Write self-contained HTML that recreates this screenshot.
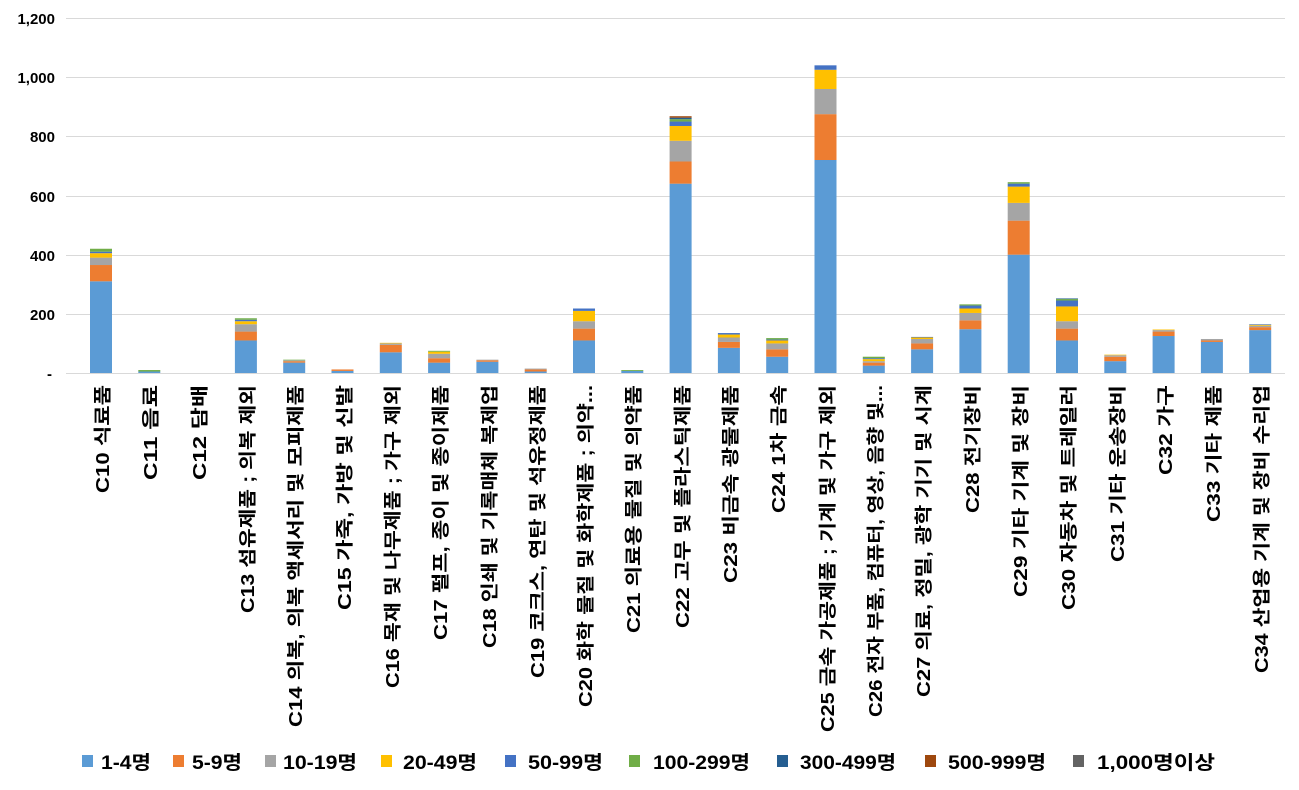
<!DOCTYPE html>
<html><head><meta charset="utf-8"><style>
body{margin:0;background:#fff;}
svg text{font-family:"Liberation Sans","Noto Sans CJK KR",sans-serif;font-weight:bold;fill:#000;}
</style></head><body>
<svg id="c" width="1299" height="785" xmlns="http://www.w3.org/2000/svg">
<g stroke="#d9d9d9" stroke-width="1">
<line x1="66" x2="1285" y1="18.5" y2="18.5"/><line x1="66" x2="1285" y1="77.5" y2="77.5"/><line x1="66" x2="1285" y1="136.5" y2="136.5"/><line x1="66" x2="1285" y1="196.5" y2="196.5"/><line x1="66" x2="1285" y1="255.5" y2="255.5"/><line x1="66" x2="1285" y1="314.5" y2="314.5"/><line x1="66" x2="1285" y1="373.5" y2="373.5"/>
</g>
<g font-size="15" text-anchor="end">
<text x="55" y="24">1,200</text><text x="55" y="83">1,000</text><text x="55" y="142">800</text><text x="55" y="202">600</text><text x="55" y="261">400</text><text x="55" y="320">200</text><text x="52" y="379">-</text>
</g>
<g id="bars"></g>
<g font-size="18" text-anchor="end">
<text textLength="108" lengthAdjust="spacingAndGlyphs" transform="translate(109,385) rotate(-90)">C10 식료품</text>
<text textLength="95" lengthAdjust="spacingAndGlyphs" transform="translate(157,385) rotate(-90)">C11 음료</text>
<text textLength="95" lengthAdjust="spacingAndGlyphs" transform="translate(206,385) rotate(-90)">C12 담배</text>
<text textLength="228" lengthAdjust="spacingAndGlyphs" transform="translate(254,385) rotate(-90)">C13 섬유제품 ; 의복 제외</text>
<text textLength="342" lengthAdjust="spacingAndGlyphs" transform="translate(302,385) rotate(-90)">C14 의복, 의복 액세서리 및 모피제품</text>
<text textLength="225" lengthAdjust="spacingAndGlyphs" transform="translate(351,385) rotate(-90)">C15 가죽, 가방 및 신발</text>
<text textLength="303" lengthAdjust="spacingAndGlyphs" transform="translate(399,385) rotate(-90)">C16 목재 및 나무제품 ; 가구 제외</text>
<text textLength="255" lengthAdjust="spacingAndGlyphs" transform="translate(447,385) rotate(-90)">C17 펄프, 종이 및 종이제품</text>
<text textLength="263" lengthAdjust="spacingAndGlyphs" transform="translate(496,385) rotate(-90)">C18 인쇄 및 기록매체 복제업</text>
<text textLength="293" lengthAdjust="spacingAndGlyphs" transform="translate(544,385) rotate(-90)">C19 코크스, 연탄 및 석유정제품</text>
<text textLength="322" lengthAdjust="spacingAndGlyphs" transform="translate(592,385) rotate(-90)">C20 화학 물질 및 화학제품 ; 의약...</text>
<text textLength="248" lengthAdjust="spacingAndGlyphs" transform="translate(640,385) rotate(-90)">C21 의료용 물질 및 의약품</text>
<text textLength="243" lengthAdjust="spacingAndGlyphs" transform="translate(689,385) rotate(-90)">C22 고무 및 플라스틱제품</text>
<text textLength="198" lengthAdjust="spacingAndGlyphs" transform="translate(737,385) rotate(-90)">C23 비금속 광물제품</text>
<text textLength="128" lengthAdjust="spacingAndGlyphs" transform="translate(785,385) rotate(-90)">C24 1차 금속</text>
<text textLength="347" lengthAdjust="spacingAndGlyphs" transform="translate(834,385) rotate(-90)">C25 금속 가공제품 ; 기계 및 가구 제외</text>
<text textLength="332" lengthAdjust="spacingAndGlyphs" transform="translate(882,385) rotate(-90)">C26 전자 부품, 컴퓨터, 영상, 음향 및...</text>
<text textLength="312" lengthAdjust="spacingAndGlyphs" transform="translate(930,385) rotate(-90)">C27 의료, 정밀, 광학 기기 및 시계</text>
<text textLength="128" lengthAdjust="spacingAndGlyphs" transform="translate(979,385) rotate(-90)">C28 전기장비</text>
<text textLength="212" lengthAdjust="spacingAndGlyphs" transform="translate(1027,385) rotate(-90)">C29 기타 기계 및 장비</text>
<text textLength="225" lengthAdjust="spacingAndGlyphs" transform="translate(1075,385) rotate(-90)">C30 자동차 및 트레일러</text>
<text textLength="177" lengthAdjust="spacingAndGlyphs" transform="translate(1124,385) rotate(-90)">C31 기타 운송장비</text>
<text textLength="90" lengthAdjust="spacingAndGlyphs" transform="translate(1172,385) rotate(-90)">C32 가구</text>
<text textLength="137" lengthAdjust="spacingAndGlyphs" transform="translate(1220,385) rotate(-90)">C33 기타 제품</text>
<text textLength="288" lengthAdjust="spacingAndGlyphs" transform="translate(1268,385) rotate(-90)">C34 산업용 기계 및 장비 수리업</text>
</g>
<g font-size="19">
<rect x="82" y="755" width="11" height="12" fill="#5b9bd5"/><text x="101" y="769" textLength="50" lengthAdjust="spacingAndGlyphs">1-4명</text>
<rect x="173" y="755" width="11" height="12" fill="#ed7d31"/><text x="192" y="769" textLength="50" lengthAdjust="spacingAndGlyphs">5-9명</text>
<rect x="265" y="755" width="11" height="12" fill="#a5a5a5"/><text x="283" y="769" textLength="74" lengthAdjust="spacingAndGlyphs">10-19명</text>
<rect x="381" y="755" width="11" height="12" fill="#ffc000"/><text x="403" y="769" textLength="74" lengthAdjust="spacingAndGlyphs">20-49명</text>
<rect x="505" y="755" width="11" height="12" fill="#4472c4"/><text x="528" y="769" textLength="75" lengthAdjust="spacingAndGlyphs">50-99명</text>
<rect x="629" y="755" width="11" height="12" fill="#70ad47"/><text x="653" y="769" textLength="97" lengthAdjust="spacingAndGlyphs">100-299명</text>
<rect x="777" y="755" width="11" height="12" fill="#255e91"/><text x="800" y="769" textLength="96" lengthAdjust="spacingAndGlyphs">300-499명</text>
<rect x="925" y="755" width="11" height="12" fill="#9e480e"/><text x="948" y="769" textLength="98" lengthAdjust="spacingAndGlyphs">500-999명</text>
<rect x="1073" y="755" width="11" height="12" fill="#636363"/><text x="1097" y="769" textLength="118" lengthAdjust="spacingAndGlyphs">1,000명이상</text>
</g>
</svg>
<script>
var cols=["#5b9bd5","#ed7d31","#a5a5a5","#ffc000","#4472c4","#70ad47","#255e91","#9e480e","#636363"];
var d=[[310,55,25,15,5,10],[5,0,0,0,0,5],[0],[110,30,25,10,5,5],[35,5,3,0,0,2],[7,5],[70,25,5,2],[35,15,15,7,0,3],[38,5,2],[5,7,3],[110,40,25,35,8],[7,0,0,0,0,3],[640,75,70,50,15,8,5,5],[85,20,15,10,5],[55,25,20,10,3,5],[720,155,85,65,15],[25,10,5,7,3,5],[80,20,15,5,2],[148,30,25,15,10,4],[400,115,60,55,10,5],[110,40,25,50,20,5,2],[40,15,5,2],[125,15,5,2],[105,5,5],[145,10,5,3,2]];
var s="",k=0.29583;
d.forEach(function(a,i){var cx=101+i*48.3,y=373;a.forEach(function(v,j){if(!v)return;var h=v*k;y-=h;s+='<rect x="'+(cx-11)+'" y="'+y+'" width="22" height="'+h+'" fill="'+cols[j]+'"/>';});});
document.getElementById("bars").innerHTML=s;
</script>
</body></html>
